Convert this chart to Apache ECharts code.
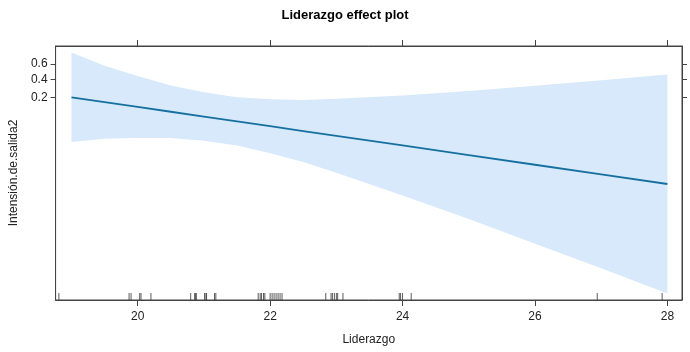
<!DOCTYPE html>
<html><head><meta charset="utf-8">
<script src="https://cdn.jsdelivr.net/npm/echarts@6/dist/echarts.min.js"></script>
<style>html,body{margin:0;padding:0;background:#fff}#c{width:690px;height:352px}</style>
</head><body><div id="c"></div>
<script>
// Liderazgo values (x)
const liderazgo = [19, 19.5, 20, 20.5, 21, 21.5, 22, 22.5, 23, 24, 25, 26, 27, 28];
// fitted effect and 95% band on the logit (link) scale
const fitLogit   = [-1.365, -1.622, -1.879, -2.136, -2.393, -2.650, -2.907, -3.163, -3.420, -3.934, -4.448, -4.962, -5.475, -5.989];
const upperLogit = [1.019, 0.320, -0.226, -0.740, -1.100, -1.360, -1.467, -1.510, -1.447, -1.267, -1.035, -0.749, -0.462, -0.149];
const lowerLogit = [-3.749, -3.570, -3.532, -3.540, -3.680, -3.930, -4.347, -4.816, -5.393, -6.601, -7.861, -9.175, -10.488, -11.829];
// rug of observed Liderazgo values
const rugValues = [18.81, 19.87, 19.90, 20.03, 20.05, 20.20, 20.80, 20.86, 20.875, 20.885, 21.01, 21.03, 21.04, 21.16, 21.18,
  21.82, 21.85, 21.87, 21.90, 21.92, 22.00, 22.03, 22.06, 22.09, 22.12, 22.15, 22.18,
  22.84, 22.92, 22.94, 22.97, 23.00, 23.02, 23.10, 23.95, 23.97, 24.00, 24.13, 26.94, 27.92];
const xTicks = [20, 22, 24, 26, 28];
const yTickLabels = [0.2, 0.4, 0.6];

const logit = p => Math.log(p / (1 - p));
const yTickValues = yTickLabels.map(logit);
const X_MIN = 18.76, X_MAX = 28.22, Y_MIN = -12.175, Y_MAX = 1.371;

const axisCol = '#444';
const txt = {color: '#222', fontFamily: 'Liberation Sans, Arial, sans-serif', fontSize: 12};

const chart = echarts.init(document.getElementById('c'), null, {renderer: 'canvas'});
chart.setOption({
  animation: false,
  backgroundColor: '#fff',
  title: {
    text: 'Liderazgo effect plot', left: 'center', top: 4,
    textStyle: {fontFamily: 'Liberation Sans, Arial, sans-serif', fontSize: 13, fontWeight: 'bold', color: '#000'}
  },
  grid: {left: 54, right: 8, top: 46, bottom: 52, show: true, borderColor: axisCol, borderWidth: 1},
  xAxis: [{
    type: 'value', position: 'bottom', min: X_MIN, max: X_MAX,
    axisLine: {show: true, onZero: false, lineStyle: {color: axisCol}},
    axisTick: {show: true, length: 6, customValues: xTicks, lineStyle: {color: axisCol}},
    axisLabel: Object.assign({customValues: xTicks, margin: 11, formatter: v => String(v)}, txt),
    splitLine: {show: false},
    name: 'Liderazgo', nameLocation: 'middle', nameGap: 34, nameTextStyle: txt
  }, {
    type: 'value', position: 'top', min: X_MIN, max: X_MAX,
    axisLine: {show: true, onZero: false, lineStyle: {color: axisCol}},
    axisTick: {show: true, length: 6, customValues: xTicks, lineStyle: {color: axisCol}},
    axisLabel: {show: false}, splitLine: {show: false}
  }],
  yAxis: [{
    type: 'value', position: 'left', min: Y_MIN, max: Y_MAX,
    axisLine: {show: true, onZero: false, lineStyle: {color: axisCol}},
    axisTick: {show: true, length: 5, customValues: yTickValues, lineStyle: {color: axisCol}},
    axisLabel: Object.assign({customValues: yTickValues, margin: 8,
      formatter: v => (1 / (1 + Math.exp(-v))).toFixed(1)}, txt),
    splitLine: {show: false},
    name: 'Intensión.de.salida2', nameLocation: 'middle', nameGap: 34, nameTextStyle: txt
  }, {
    type: 'value', position: 'right', min: Y_MIN, max: Y_MAX,
    axisLine: {show: true, onZero: false, lineStyle: {color: axisCol}},
    axisTick: {show: true, length: 5, customValues: yTickValues, lineStyle: {color: axisCol}},
    axisLabel: {show: false}, splitLine: {show: false}
  }],
  series: [{
    type: 'custom', name: 'band', silent: true, z: 1,
    data: [[liderazgo[0], lowerLogit[0]]],
    renderItem: function (params, api) {
      const top = liderazgo.map((x, i) => api.coord([x, upperLogit[i]]));
      const bot = liderazgo.map((x, i) => api.coord([x, lowerLogit[i]]));
      return {
        type: 'polygon',
        shape: {points: top.concat(bot.slice().reverse())},
        style: {fill: '#d8e9fb', stroke: null}
      };
    }
  }, {
    type: 'line', name: 'fit', z: 3,
    data: liderazgo.map((x, i) => [x, fitLogit[i]]),
    symbol: 'none', lineStyle: {color: '#1570a0', width: 1.8}, silent: true
  }, {
    type: 'scatter', name: 'rug', z: 4,
    data: rugValues.map(v => [v, Y_MIN]),
    symbol: 'rect', symbolSize: [1, 7], symbolOffset: [0, -3.5],
    itemStyle: {color: '#333'}, clip: false, silent: true
  }]
});
</script>
</body></html>
